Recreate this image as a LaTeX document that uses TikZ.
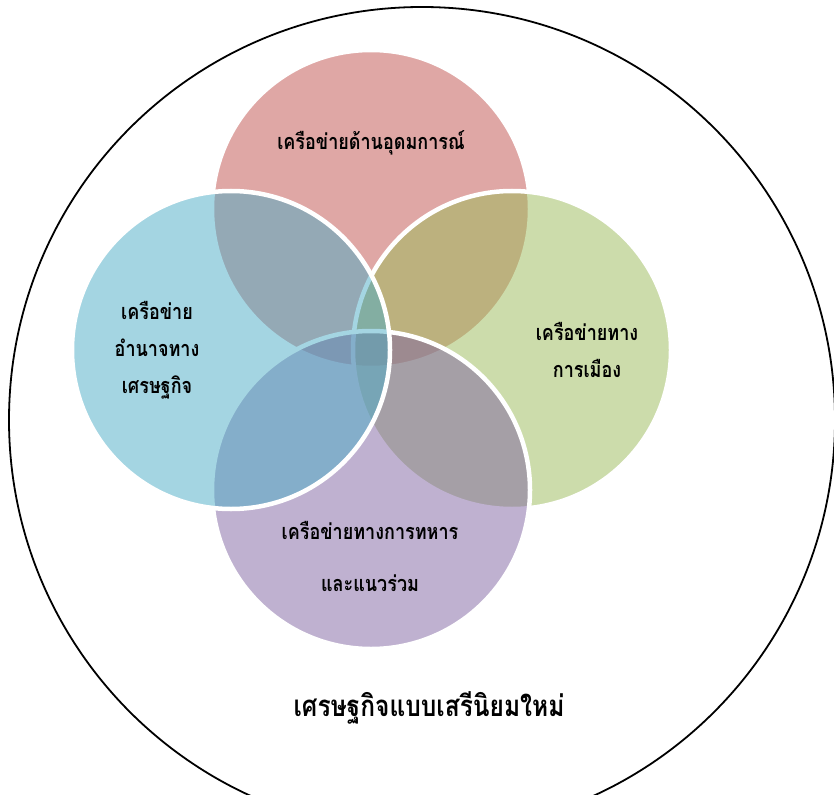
\documentclass[tikz,border=0pt]{standalone}
\usepackage{fontspec}
\newfontfamily\thai[Script=Thai]{Loma}
\definecolor{accRed}{HTML}{C0504D}
\definecolor{accBlue}{HTML}{4BACC6}
\definecolor{accGreen}{HTML}{9BBB59}
\definecolor{accPurple}{HTML}{8064A2}
% slightly taller glyphs for the Thai labels
\newcommand\tallline[1]{\scalebox{1}[1.2]{#1}}
\tikzset{
  venn/.style={circle, minimum size=318pt, inner sep=0pt, draw=white,
    line width=4.5pt, fill opacity=0.5, draw opacity=1},
  lbl/.style={font=\thai\bfseries\fontsize{18}{37}\selectfont, align=center, text=black},
  biglbl/.style={font=\thai\bfseries\fontsize{24.5}{28}\selectfont, text=black}
}
\begin{document}
\begin{tikzpicture}[x=1pt,y=-1pt]
  \useasboundingbox (0,0) rectangle (834,794);
  \clip (0,0) rectangle (834,794);
  \fill[white] (0,0) rectangle (834,794);
  % enclosing circle
  \node[circle, draw=black, line width=1.8pt, minimum size=826pt, inner sep=0pt] (outer) at (422,420) {};
  % four overlapping networks
  \node[venn, fill=accRed]    (ideo)  at (371,209) {};
  \node[venn, fill=accGreen]  (pol)   at (512,350) {};
  \node[venn, fill=accPurple] (mil)   at (371,490) {};
  \node[venn, fill=accBlue]   (econ)  at (231,350) {};
  % labels
  \node[lbl] (ideoT) at (371,143) {\tallline{เครือข่ายด้านอุดมการณ์}};
  \node[lbl] (econT) at (157,350) {\tallline{เครือข่าย}\\\tallline{อำนาจทาง}\\\tallline{เศรษฐกิจ}};
  \node[lbl] (polT)  at (587,350) {\tallline{เครือข่ายทาง}\\\tallline{การเมือง}};
  \node[lbl, font=\thai\bfseries\fontsize{18}{52}\selectfont] (milT) at (370,556) {\tallline{เครือข่ายทางการทหาร}\\\tallline{และแนวร่วม}};
  \node[biglbl] (neo) at (429,708) {\tallline{เศรษฐกิจแบบเสรีนิยมใหม่}};
\end{tikzpicture}
\end{document}
